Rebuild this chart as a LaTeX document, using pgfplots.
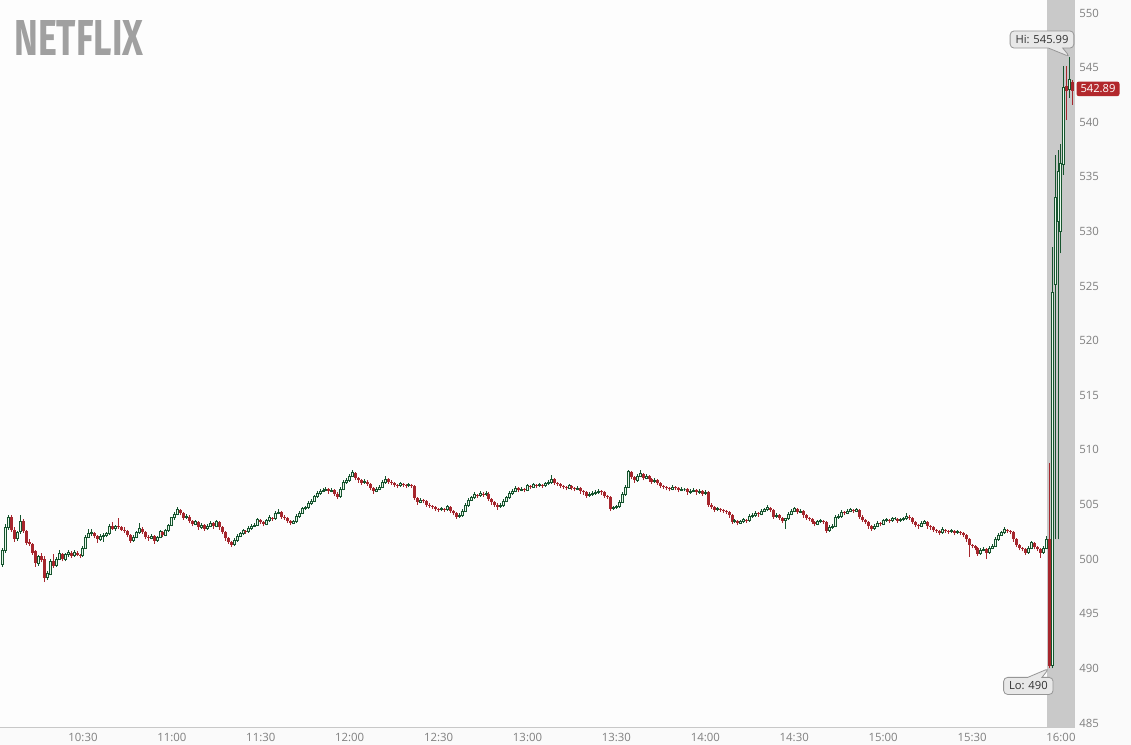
\documentclass[border=0pt]{standalone}
\usepackage{fontspec}
\setmainfont{Open Sans}
\newfontfamily\logofont{Fira Sans}
\usepackage{pgfplots}
\usepackage{pgfplotstable}
\pgfplotsset{compat=1.18}
\usetikzlibrary{shapes.callouts}

\definecolor{cgreen}{RGB}{22,84,46}
\definecolor{cfill}{RGB}{185,235,195}
\definecolor{cred}{RGB}{166,38,45}
\definecolor{ahgray}{RGB}{201,201,201}
\definecolor{axisgray}{RGB}{200,200,200}
\definecolor{ticklab}{RGB}{128,128,128}
\definecolor{logogray}{RGB}{160,160,160}
\definecolor{boxfill}{RGB}{232,232,232}
\definecolor{boxdraw}{RGB}{150,150,150}
\definecolor{tagred}{RGB}{178,40,44}

% pt per dollar on the y axis (1px = 0.5pt)
\def\yu{5.4615}

% one candle, drawn at (t, close)
\pgfdeclareplotmark{candle}{%
  \pgfmathsetmacro\cdO{(\vo-\vc)*\yu}%
  \pgfmathsetmacro\cdH{(\vh-\vc)*\yu}%
  \pgfmathsetmacro\cdL{(\vl-\vc)*\yu}%
  \pgfsetlinewidth{0.5pt}%
  \pgfsetbuttcap
  \ifdim\vc pt<\vo pt\relax
    \pgfsetstrokecolor{cred}%
    \pgfpathmoveto{\pgfpoint{0pt}{\cdL pt}}%
    \pgfpathlineto{\pgfpoint{0pt}{\cdH pt}}%
    \pgfusepath{stroke}%
    \pgfsetfillcolor{cred}\pgfsetfillopacity{1}%
    \pgfpathrectanglecorners{\pgfpoint{-0.75pt}{0pt}}{\pgfpoint{0.75pt}{\cdO pt}}%
    \pgfusepath{fill}%
  \else
    \pgfsetstrokecolor{cgreen}%
    \pgfpathmoveto{\pgfpoint{0pt}{\cdL pt}}%
    \pgfpathlineto{\pgfpoint{0pt}{\cdH pt}}%
    \pgfusepath{stroke}%
    \pgfsetfillcolor{white}\pgfsetfillopacity{1}%
    \pgfpathrectanglecorners{\pgfpoint{-0.5pt}{0pt}}{\pgfpoint{0.5pt}{\cdO pt}}%
    \pgfusepath{fill}%
    \pgfsetfillcolor{cfill}\pgfsetfillopacity{0.35}%
    \pgfpathrectanglecorners{\pgfpoint{-0.5pt}{0pt}}{\pgfpoint{0.5pt}{\cdO pt}}%
    \pgfusepath{fill,stroke}%
  \fi
}

% t = minutes after 10:00, o h l c = open high low close
\pgfplotstableread{
t o h l c
3 499.5 501.0 499.3 500.8
4 500.8 503.2 500.6 502.9
5 502.9 504.0 502.7 503.8
6 503.9 504.0 502.5 502.7
7 502.7 502.9 501.6 501.8
8 501.9 502.6 501.7 502.4
9 502.5 504.0 502.3 503.4
10 503.5 503.7 502.4 502.6
11 502.6 502.7 501.3 501.5
12 501.6 501.8 501.2 501.4
13 501.4 501.5 500.4 500.6
14 500.7 500.8 499.3 499.6
15 499.6 500.4 499.4 500.2
16 500.3 500.6 499.7 499.9
17 500.0 500.3 497.9 498.3
18 498.3 498.9 498.1 498.7
19 498.6 500.0 498.5 499.8
20 499.8 500.5 499.2 499.4
21 499.4 500.2 499.3 500.0
22 500.0 500.8 499.9 500.5
23 500.5 500.6 499.8 500.0
24 500.0 500.6 499.8 500.4
25 500.4 500.8 500.2 500.6
26 500.6 500.7 500.1 500.3
27 500.3 500.8 500.2 500.6
28 500.6 500.7 500.3 500.4
29 500.4 500.5 500.1 500.3
30 500.3 501.2 500.2 501.0
31 501.0 502.2 500.9 502.0
32 502.0 502.8 501.9 502.3
33 502.3 502.8 502.1 502.4
34 502.4 502.5 501.9 502.1
35 502.1 502.2 501.5 501.8
36 501.8 502.3 501.7 502.1
37 502.1 502.4 501.6 502.2
38 502.2 502.5 502.0 502.3
39 502.3 503.2 502.2 503.0
40 503.0 503.4 502.7 502.8
41 502.8 503.1 502.6 503.0
42 503.0 503.8 502.8 502.9
43 502.9 503.0 502.6 502.7
44 502.7 502.9 502.4 502.6
45 502.6 502.7 502.0 502.2
46 502.2 502.3 501.5 501.7
47 501.7 502.2 501.6 502.0
48 502.0 502.6 501.9 502.4
49 502.4 503.3 502.3 502.8
50 502.8 502.9 502.3 502.5
51 502.5 502.6 501.8 502.0
52 502.0 502.2 501.7 501.9
53 501.9 502.3 501.8 502.1
54 502.1 502.2 501.4 501.7
55 501.7 502.1 501.6 502.0
56 502.0 502.7 501.9 502.5
57 502.5 502.6 502.0 502.2
58 502.2 502.8 502.1 502.6
59 502.6 503.2 502.5 503.1
60 503.1 503.9 503.0 503.8
61 503.8 504.3 503.6 504.1
62 504.1 504.8 504.0 504.5
63 504.5 504.6 504.0 504.2
64 504.2 504.3 503.6 503.8
65 503.8 504.1 503.7 503.9
66 503.9 504.0 503.3 503.5
67 503.5 503.6 503.0 503.2
68 503.2 503.6 503.1 503.4
69 503.4 503.5 502.7 502.9
70 502.9 503.3 502.8 503.1
71 503.1 503.2 502.6 502.8
72 502.8 503.2 502.7 503.0
73 503.0 503.5 502.9 503.3
74 503.3 503.4 502.8 503.0
75 503.0 503.6 502.9 503.4
76 503.4 503.5 502.7 502.9
77 502.9 503.0 502.3 502.5
78 502.5 502.6 501.7 501.9
79 501.9 502.0 501.4 501.6
80 501.6 501.7 501.1 501.3
81 501.3 501.9 501.2 501.7
82 501.7 502.3 501.6 502.1
83 502.1 502.5 502.0 502.3
84 502.3 502.8 502.2 502.6
85 502.6 502.7 502.3 502.5
86 502.5 503.0 502.4 502.8
87 502.8 503.2 502.7 503.0
88 503.0 503.3 502.9 503.1
89 503.1 503.8 503.0 503.6
90 503.6 503.7 503.2 503.4
91 503.4 503.5 503.0 503.2
92 503.2 503.7 503.1 503.5
93 503.5 504.0 503.4 503.8
94 503.8 503.9 503.5 503.7
95 503.7 504.4 503.6 504.2
96 504.2 504.6 504.1 504.3
97 504.3 504.4 503.7 503.9
98 503.9 504.0 503.6 503.8
99 503.8 503.9 503.3 503.5
100 503.5 503.6 503.1 503.3
101 503.3 503.6 503.2 503.4
102 503.4 504.1 503.3 503.9
103 503.9 504.4 503.8 504.2
104 504.2 504.8 504.1 504.6
105 504.6 504.9 504.5 504.7
106 504.7 505.3 504.6 505.1
107 505.1 505.5 505.0 505.3
108 505.3 505.9 505.2 505.7
109 505.7 506.2 505.6 506.0
110 506.0 506.4 505.9 506.2
111 506.2 506.5 506.1 506.3
112 506.3 506.6 506.2 506.4
113 506.4 506.5 506.0 506.2
114 506.2 506.5 506.1 506.3
115 506.3 506.4 505.8 506.0
116 506.0 506.1 505.5 505.7
117 505.7 506.6 505.6 506.4
118 506.4 507.2 506.3 507.0
119 507.0 507.4 506.9 507.2
120 507.2 507.8 507.1 507.6
121 507.6 508.2 507.5 507.9
122 507.9 508.0 507.2 507.4
123 507.4 507.5 507.0 507.2
124 507.2 507.3 506.8 507.0
125 507.0 507.3 506.9 507.1
126 507.1 507.2 506.7 506.9
127 506.9 507.0 506.3 506.5
128 506.5 506.6 506.0 506.2
129 506.2 506.6 506.1 506.4
130 506.4 506.8 506.3 506.6
131 506.6 507.2 506.5 507.0
132 507.0 507.6 506.9 507.3
133 507.3 507.4 506.9 507.1
134 507.1 507.2 506.8 507.0
135 507.0 507.1 506.6 506.8
136 506.8 506.9 506.5 506.7
137 506.7 507.1 506.6 506.9
138 506.9 507.0 506.6 506.8
139 506.8 506.9 506.5 506.7
140 506.7 507.0 506.6 506.8
141 506.8 506.9 506.5 506.7
142 506.7 506.8 505.4 505.6
143 505.6 505.7 505.0 505.2
144 505.2 505.6 505.1 505.4
145 505.4 505.5 505.1 505.3
146 505.3 505.4 504.8 505.0
147 505.0 505.1 504.7 504.9
148 504.9 505.0 504.6 504.8
149 504.8 504.9 504.4 504.6
150 504.6 504.7 504.3 504.5
151 504.5 504.8 504.4 504.6
152 504.6 504.7 504.3 504.5
153 504.5 505.0 504.4 504.8
154 504.8 504.9 504.2 504.4
155 504.4 504.5 504.0 504.2
156 504.2 504.3 503.7 503.9
157 503.9 504.2 503.8 504.0
158 504.0 504.6 503.9 504.4
159 504.4 505.1 504.3 504.9
160 504.9 505.6 504.8 505.4
161 505.4 505.8 505.3 505.6
162 505.6 506.1 505.5 505.9
163 505.9 506.0 505.6 505.8
164 505.8 506.2 505.7 506.0
165 506.0 506.1 505.7 505.9
166 505.9 506.2 505.8 506.0
167 506.0 506.1 505.3 505.5
168 505.5 505.6 505.0 505.2
169 505.2 505.3 504.8 505.0
170 505.0 505.1 504.5 504.8
171 504.8 505.1 504.7 504.9
172 504.9 505.5 504.8 505.3
173 505.3 505.8 505.2 505.6
174 505.6 506.2 505.5 506.0
175 506.0 506.4 505.9 506.2
176 506.2 506.7 506.1 506.5
177 506.5 506.6 506.1 506.3
178 506.3 506.6 506.2 506.4
179 506.4 506.5 506.1 506.3
180 506.3 506.9 506.2 506.7
181 506.7 506.8 506.4 506.6
182 506.6 507.0 506.5 506.8
183 506.8 506.9 506.5 506.7
184 506.7 507.0 506.6 506.8
185 506.8 506.9 506.5 506.7
186 506.7 507.1 506.6 506.9
187 506.9 507.2 506.8 507.0
188 507.0 507.7 506.9 507.3
189 507.3 507.4 506.8 507.0
190 507.0 507.1 506.7 506.9
191 506.9 507.0 506.5 506.7
192 506.7 506.8 506.4 506.6
193 506.6 506.7 506.3 506.5
194 506.5 506.9 506.4 506.7
195 506.7 506.8 506.3 506.5
196 506.5 506.6 506.2 506.4
197 506.4 506.7 506.3 506.5
198 506.5 506.6 506.0 506.2
199 506.2 506.3 505.9 506.1
200 506.1 506.2 505.6 505.8
201 505.8 506.1 505.7 505.9
202 505.9 506.2 505.8 506.0
203 506.0 506.3 505.9 506.1
204 506.1 506.4 506.0 506.2
205 506.2 506.3 505.9 506.1
206 506.1 506.2 505.6 505.8
207 505.8 505.9 505.5 505.7
208 505.7 505.8 504.4 504.6
209 504.6 504.9 504.5 504.7
210 504.7 505.0 504.6 504.8
211 504.8 505.4 504.7 505.2
212 505.2 506.1 505.1 505.9
213 505.9 506.8 505.8 506.6
214 506.6 508.2 506.5 508.0
215 508.0 508.1 507.3 507.5
216 507.5 507.6 507.0 507.2
217 507.2 507.8 507.1 507.6
218 507.6 508.2 507.5 507.8
219 507.8 507.9 507.2 507.4
220 507.4 507.8 507.3 507.6
221 507.6 507.7 507.1 507.3
222 507.3 507.4 506.9 507.1
223 507.1 507.4 507.0 507.2
224 507.2 507.3 506.8 507.0
225 507.0 507.1 506.5 506.7
226 506.7 506.8 506.4 506.6
227 506.6 506.7 506.3 506.5
228 506.5 506.6 506.2 506.4
229 506.4 506.8 506.3 506.6
230 506.6 506.7 506.3 506.5
231 506.5 506.6 506.1 506.3
232 506.3 506.6 506.2 506.4
233 506.4 506.5 506.2 506.4
234 506.4 506.5 505.9 506.1
235 506.1 506.4 506.0 506.2
236 506.2 506.5 506.1 506.3
237 506.3 506.4 505.9 506.1
238 506.1 506.4 506.0 506.2
239 506.2 506.3 505.8 506.0
240 506.0 506.3 505.9 506.1
241 506.1 506.2 504.8 505.0
242 505.0 505.1 504.6 504.8
243 504.8 504.9 504.3 504.5
244 504.5 504.8 504.4 504.6
245 504.6 504.7 504.3 504.5
246 504.5 504.6 504.2 504.4
247 504.4 504.5 504.1 504.3
248 504.3 504.4 503.8 504.0
249 504.0 504.1 503.2 503.4
250 503.4 503.7 503.3 503.5
251 503.5 503.6 503.1 503.3
252 503.3 503.6 503.2 503.4
253 503.4 503.8 503.3 503.6
254 503.6 503.7 503.3 503.5
255 503.5 504.1 503.4 503.9
256 503.9 504.2 503.8 504.0
257 504.0 504.4 503.9 504.2
258 504.2 504.3 503.9 504.1
259 504.1 504.6 504.0 504.4
260 504.4 504.7 504.3 504.5
261 504.5 505.0 504.4 504.7
262 504.7 504.8 504.3 504.5
263 504.5 504.6 503.7 503.9
264 503.9 504.2 503.8 504.0
265 504.0 504.1 503.6 503.8
266 503.8 503.9 503.3 503.5
267 503.5 503.8 502.8 503.7
268 503.7 504.3 503.6 504.1
269 504.1 504.6 504.0 504.4
270 504.4 504.8 504.3 504.6
271 504.6 504.7 504.1 504.3
272 504.3 504.6 504.2 504.4
273 504.4 504.5 503.8 504.0
274 504.0 504.1 503.6 503.8
275 503.8 503.9 503.5 503.7
276 503.7 503.8 503.2 503.4
277 503.4 503.5 503.0 503.2
278 503.2 503.6 503.1 503.4
279 503.4 503.7 503.3 503.5
280 503.5 503.6 503.2 503.4
281 503.4 503.5 502.4 502.6
282 502.6 503.1 502.5 502.9
283 502.9 503.2 502.8 503.0
284 503.0 504.0 502.9 503.8
285 503.8 504.1 503.7 503.9
286 503.9 504.5 503.8 504.3
287 504.3 504.4 504.0 504.2
288 504.2 504.6 504.1 504.4
289 504.4 504.7 504.3 504.5
290 504.5 504.6 504.2 504.4
291 504.4 504.7 504.3 504.5
292 504.5 504.6 503.7 503.9
293 503.9 504.0 503.4 503.6
294 503.6 503.7 503.2 503.4
295 503.4 503.5 502.8 503.0
296 503.0 503.1 502.6 502.8
297 502.8 503.2 502.7 503.0
298 503.0 503.5 502.9 503.3
299 503.3 503.4 503.0 503.2
300 503.2 503.7 503.1 503.5
301 503.5 503.8 503.4 503.6
302 503.6 503.7 503.3 503.5
303 503.5 503.9 503.4 503.7
304 503.7 503.9 503.6 503.7
305 503.7 503.8 503.3 503.5
306 503.5 503.8 503.4 503.6
307 503.6 503.9 503.5 503.7
308 503.7 504.2 503.6 503.9
309 503.9 504.0 503.6 503.8
310 503.8 503.9 503.2 503.4
311 503.4 503.5 502.9 503.1
312 503.1 503.2 502.8 503.0
313 503.0 503.5 502.9 503.3
314 503.3 503.6 503.2 503.4
315 503.4 503.5 502.8 503.0
316 503.0 503.1 502.7 502.9
317 502.9 503.0 502.5 502.7
318 502.7 502.8 502.4 502.6
319 502.6 502.7 502.2 502.4
320 502.4 502.9 502.3 502.7
321 502.7 502.8 502.4 502.6
322 502.6 502.7 502.3 502.5
323 502.5 502.8 502.4 502.6
324 502.6 502.7 502.2 502.4
325 502.4 502.7 502.3 502.5
326 502.5 502.6 502.2 502.4
327 502.4 502.5 502.0 502.2
328 502.2 502.3 501.6 501.8
329 501.8 501.9 500.2 501.3
330 501.3 501.4 501.0 501.2
331 501.2 501.3 500.8 501.0
332 501.0 501.1 500.3 500.5
333 500.5 501.0 500.4 500.8
334 500.8 501.1 500.7 500.9
335 500.9 501.0 500.0 500.6
336 500.6 501.2 500.5 501.0
337 501.0 501.4 500.9 501.2
338 501.2 502.0 501.1 501.8
339 501.8 502.4 501.7 502.2
340 502.2 502.6 502.1 502.4
341 502.4 502.9 502.3 502.7
342 502.7 502.8 502.4 502.6
343 502.6 502.7 502.3 502.5
344 502.5 502.6 501.6 501.8
345 501.8 501.9 501.1 501.3
346 501.3 501.4 500.8 501.0
347 501.0 501.1 500.7 500.9
348 500.9 501.0 500.4 500.6
349 500.6 501.2 500.5 501.0
350 501.0 501.7 500.9 501.5
351 501.5 501.6 500.9 501.1
352 501.1 501.2 500.7 500.9
353 500.9 501.0 500.1 500.6
354 500.6 501.2 500.5 501.0
355 501.0 502.1 500.9 501.8
356 501.8 508.8 490.0 490.2
357 490.3 528.6 490.0 524.4
358 525.1 537.0 501.8 533.1
359 530.9 537.5 501.8 535.5
360 530.0 538.0 528.0 536.2
361 536.1 545.1 535.2 543.2
362 543.3 545.1 540.2 542.9
363 543.0 545.99 542.2 543.9
364 543.7 543.9 541.6 542.89
}\candles

\begin{document}
\begin{tikzpicture}
\useasboundingbox (0,-9pt) rectangle (565.5pt,363.5pt);
\fill[white!98!black] (0,-9pt) rectangle (565.5pt,363.5pt);
\fill[white!99.4!black] (0,0) rectangle (537.5pt,363.5pt);

\begin{axis}[
  x=1.4818pt, y=5.4615pt,
  xmin=2, xmax=364.73,
  ymin=484.63, ymax=551.19,
  axis x line*=bottom, axis y line*=right,
  axis line style={-, draw=axisgray, line width=0.5pt},
  major tick length=0pt,
  xtick={30,60,...,360},
  xticklabels={10:30,11:00,11:30,12:00,12:30,13:00,13:30,14:00,14:30,15:00,15:30,16:00},
  ytick={485,490,...,550},
  /pgf/number format/assume math mode=true,
  tick label style={font=\fontsize{5.7pt}{6.8pt}\selectfont, text=ticklab},
  xticklabel style={anchor=north, inner sep=0pt, yshift=-3pt},
  yticklabel style={anchor=west, inner sep=0pt, xshift=2pt},
  clip=false,
]
% after-hours band
\addplot[fill=ahgray, draw=none, forget plot]
  coordinates {(355.3,484.63) (355.3,551.19) (364.4,551.19) (364.4,484.63)} -- cycle;

\addplot[
  scatter, only marks, mark=candle, point meta=y,
  scatter/@pre marker code/.code={},
  scatter/@post marker code/.code={},
  visualization depends on={\thisrow{o}\as\vo},
  visualization depends on={\thisrow{h}\as\vh},
  visualization depends on={\thisrow{l}\as\vl},
  visualization depends on={\thisrow{c}\as\vc},
] table[x=t, y=c] {\candles};

\node[rectangle callout, rounded corners=2pt, draw=boxdraw, fill=boxfill,
  line width=0.4pt, text=black!80, font=\fontsize{5.6pt}{6.7pt}\selectfont,
  inner xsep=2.7pt, inner ysep=2.2pt,
  callout absolute pointer={(axis cs:363,545.99)}]
  at (axis cs:353.6,547.57) {Hi: 545.99};
\node[rectangle callout, rounded corners=2pt, draw=boxdraw, fill=boxfill,
  line width=0.4pt, text=black!80, font=\fontsize{5.6pt}{6.7pt}\selectfont,
  inner xsep=2.7pt, inner ysep=2.2pt,
  callout absolute pointer={(axis cs:356,490)}]
  at (axis cs:349.0,488.39) {Lo: 490};
\node[fill=tagred, text=white, rounded corners=1.2pt,
  font=\fontsize{5.6pt}{6.7pt}\selectfont, inner xsep=2pt, inner ysep=1.6pt]
  at (axis cs:372.5,543.05) {542.89};
\end{axis}

\node[anchor=north west, inner sep=0pt, text=logogray] at (7pt,353.5pt)
  {\resizebox{64.5pt}{17.5pt}{\logofont\bfseries NETFLIX}};
\end{tikzpicture}
\end{document}
